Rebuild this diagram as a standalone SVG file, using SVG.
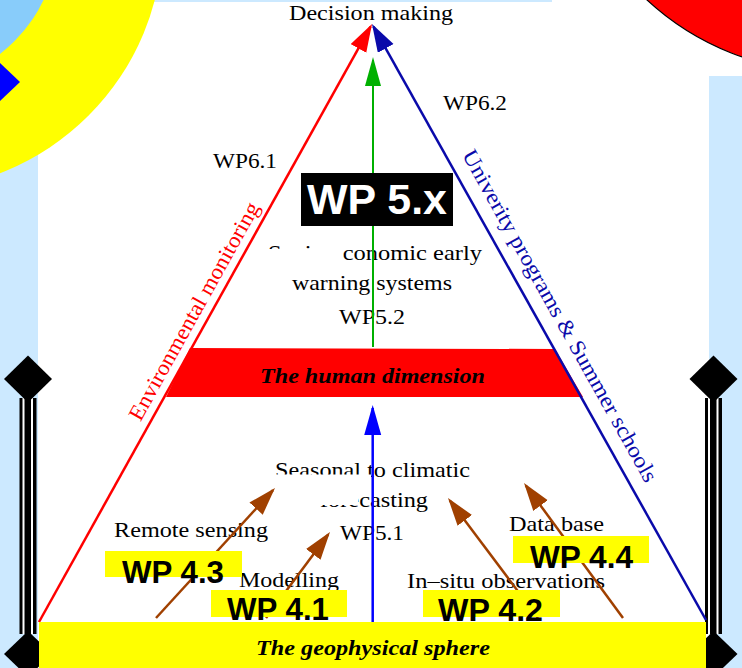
<svg xmlns="http://www.w3.org/2000/svg" width="742" height="668" viewBox="0 0 742 668">
<style>
.serif{font-family:"Liberation Serif","Times New Roman",serif;font-size:22px;fill:#000}
.band{font-family:"Liberation Serif","Times New Roman",serif;font-size:22px;font-weight:bold;font-style:italic;fill:#000}
.wp{font-family:"Liberation Sans",Arial,sans-serif;font-weight:bold;font-size:32px;fill:#000}
.ybox{fill:#ffff00}
.mask{fill:#ffffff}
.lb{fill:#cce9ff}
.brown{stroke:#a04000;stroke-width:2.5;fill:none}
</style>
<defs>
<marker id="ah-red" markerUnits="userSpaceOnUse" markerWidth="30" markerHeight="20" refX="25" refY="9" orient="auto"><path d="M0,0 L28,9 L0,18 Z" fill="#ff0000"/></marker>
<marker id="ah-navy" markerUnits="userSpaceOnUse" markerWidth="30" markerHeight="20" refX="25" refY="9" orient="auto"><path d="M0,0 L28,9 L0,18 Z" fill="#0a0aaa"/></marker>
<marker id="ah-green" markerUnits="userSpaceOnUse" markerWidth="30" markerHeight="18" refX="26" refY="8" orient="auto"><path d="M0,0 L29,8 L0,16 Z" fill="#00b000"/></marker>
<marker id="ah-blue" markerUnits="userSpaceOnUse" markerWidth="32" markerHeight="18" refX="27" refY="8.5" orient="auto"><path d="M0,0 L30,8.5 L0,17 Z" fill="#0000ff"/></marker>
<marker id="ah-brown" markerUnits="userSpaceOnUse" markerWidth="30" markerHeight="20" refX="25" refY="9" orient="auto"><path d="M0,0 L28,9 L0,18 Z" fill="#a04000"/></marker>
<g id="pillar-shape">
<rect x="-8.5" y="398" width="17" height="236" fill="#000"/>
<rect x="-5.5" y="398" width="2" height="236" fill="#fff"/>
<rect x="3" y="398" width="2" height="236" fill="#fff"/>
<polygon points="0,355.5 24,379 0,402.5 -24,379" fill="#000"/>
<polygon points="0,631 24,654 0,677 -24,654" fill="#000"/>
</g>
</defs>

<g id="background">
<rect x="0" y="0" width="742" height="668" fill="#ffffff"/>
<rect class="lb" x="0" y="0" width="38" height="668"/>
<rect class="lb" x="0" y="0" width="552" height="2"/>
<rect class="lb" x="709" y="76" width="33" height="592"/>
</g>

<g id="emblem-left">
<circle cx="-91" cy="-64" r="254" fill="#ffff00"/>
<circle cx="-91" cy="-64" r="149" fill="#88ccfa"/>
<polygon points="0,63 20,82 0,101 -20,82" fill="#0000ff"/>
</g>

<g id="emblem-right">
<circle cx="831" cy="-199" r="271" fill="#ff0000" stroke="#000" stroke-width="1.2"/>
</g>

<g id="pillar-left"><use href="#pillar-shape" x="28"/></g>
<g id="pillar-right"><use href="#pillar-shape" x="713.5"/></g>

<g id="node-human-dimension">
<polygon points="190,348 555,349 583,397 166,397" fill="#ff0000"/>
<text class="band" x="260" y="383" textLength="225" lengthAdjust="spacingAndGlyphs">The human dimension</text>
</g>

<g id="node-decision">
<text class="serif" x="289" y="19.5" textLength="164" lengthAdjust="spacingAndGlyphs" style="font-size:21px">Decision making</text>
</g>

<g id="label-wp61">
<text class="serif" x="213" y="168" textLength="64" lengthAdjust="spacingAndGlyphs">WP6.1</text>
</g>
<g id="label-wp62">
<text class="serif" x="443" y="110" textLength="64" lengthAdjust="spacingAndGlyphs">WP6.2</text>
</g>

<g id="label-environmental">
<text class="serif" transform="translate(39,622) rotate(-60.9)" x="224" y="-8.5" textLength="246" lengthAdjust="spacingAndGlyphs" style="fill:#ff0000">Environmental monitoring</text>
</g>
<g id="label-university">
<text class="serif" transform="translate(372,24) rotate(60.8)" x="158" y="-14.5" textLength="377" lengthAdjust="spacingAndGlyphs" style="fill:#0a0aaa">Univerity programs &amp; Summer schools</text>
</g>

<g id="node-socio-economic">
<text class="serif" x="268" y="260" textLength="214" lengthAdjust="spacingAndGlyphs">Socio-economic early</text>
<rect class="mask" x="264" y="249" width="79" height="16"/>
<text class="serif" x="292" y="290" textLength="160" lengthAdjust="spacingAndGlyphs">warning systems</text>
<text class="serif" x="339" y="324" textLength="66" lengthAdjust="spacingAndGlyphs">WP5.2</text>
</g>

<g id="node-seasonal">
<text class="serif" x="275" y="477" textLength="195" lengthAdjust="spacingAndGlyphs">Seasonal to climatic</text>
<rect class="mask" x="270" y="474.5" width="101" height="7"/>
<text class="serif" x="320" y="507" textLength="108" lengthAdjust="spacingAndGlyphs">forecasting</text>
<rect class="mask" x="317" y="488" width="41" height="17"/>
<text class="serif" x="340" y="540" textLength="64" lengthAdjust="spacingAndGlyphs">WP5.1</text>
</g>

<g id="node-remote-sensing-text">
<text class="serif" x="114" y="537" textLength="154" lengthAdjust="spacingAndGlyphs">Remote sensing</text>
</g>
<g id="node-modelling-text">
<text class="serif" x="239" y="587" textLength="100" lengthAdjust="spacingAndGlyphs">Modelling</text>
</g>
<g id="node-database-text">
<text class="serif" x="509" y="531" textLength="95" lengthAdjust="spacingAndGlyphs">Data base</text>
</g>
<g id="node-insitu-text">
<text class="serif" x="407" y="588" textLength="198" lengthAdjust="spacingAndGlyphs">In–situ observations</text>
</g>

<g id="connectors">
<line x1="39" y1="622" x2="370.54" y2="26.62" stroke="#ff0000" stroke-width="2.5" marker-end="url(#ah-red)"/>
<line x1="706" y1="620" x2="373.47" y2="26.62" stroke="#0a0aaa" stroke-width="2.5" marker-end="url(#ah-navy)"/>
<line x1="373" y1="347" x2="373" y2="60" stroke="#00b000" stroke-width="2" marker-end="url(#ah-green)"/>
<line x1="372.7" y1="622" x2="372.7" y2="408" stroke="#0000ff" stroke-width="2.5" marker-end="url(#ah-blue)"/>
<line class="brown" x1="156" y1="618" x2="272.97" y2="490.21" marker-end="url(#ah-brown)"/>
<line class="brown" x1="266" y1="618" x2="328.21" y2="534.41" marker-end="url(#ah-brown)"/>
<line class="brown" x1="538" y1="618" x2="449.8" y2="500.4" marker-end="url(#ah-brown)"/>
<line class="brown" x1="623" y1="618" x2="525.77" y2="485.42" marker-end="url(#ah-brown)"/>
</g>

<g id="node-wp5x">
<rect x="301" y="173" width="152" height="53" fill="#000"/>
<text class="wp" x="307" y="214" textLength="140" lengthAdjust="spacingAndGlyphs" style="font-size:43px;fill:#fff">WP 5.x</text>
</g>

<g id="node-wp43">
<rect class="ybox" x="105" y="551" width="137" height="26"/>
<text class="wp" x="122" y="583" textLength="102" lengthAdjust="spacingAndGlyphs">WP 4.3</text>
</g>
<g id="node-wp41">
<rect class="ybox" x="211" y="590" width="136" height="27"/>
<text class="wp" x="227" y="620" textLength="102" lengthAdjust="spacingAndGlyphs">WP 4.1</text>
</g>
<g id="node-wp44">
<rect class="ybox" x="513" y="536" width="136" height="27"/>
<text class="wp" x="530" y="568" textLength="103" lengthAdjust="spacingAndGlyphs">WP 4.4</text>
</g>
<g id="node-wp42">
<rect class="ybox" x="423" y="590" width="137" height="27"/>
<text class="wp" x="438" y="621" textLength="105" lengthAdjust="spacingAndGlyphs">WP 4.2</text>
</g>

<g id="node-geophysical">
<rect class="ybox" x="39" y="622" width="667" height="46"/>
<text class="band" x="256" y="655" textLength="234" lengthAdjust="spacingAndGlyphs">The geophysical sphere</text>
</g>
</svg>
